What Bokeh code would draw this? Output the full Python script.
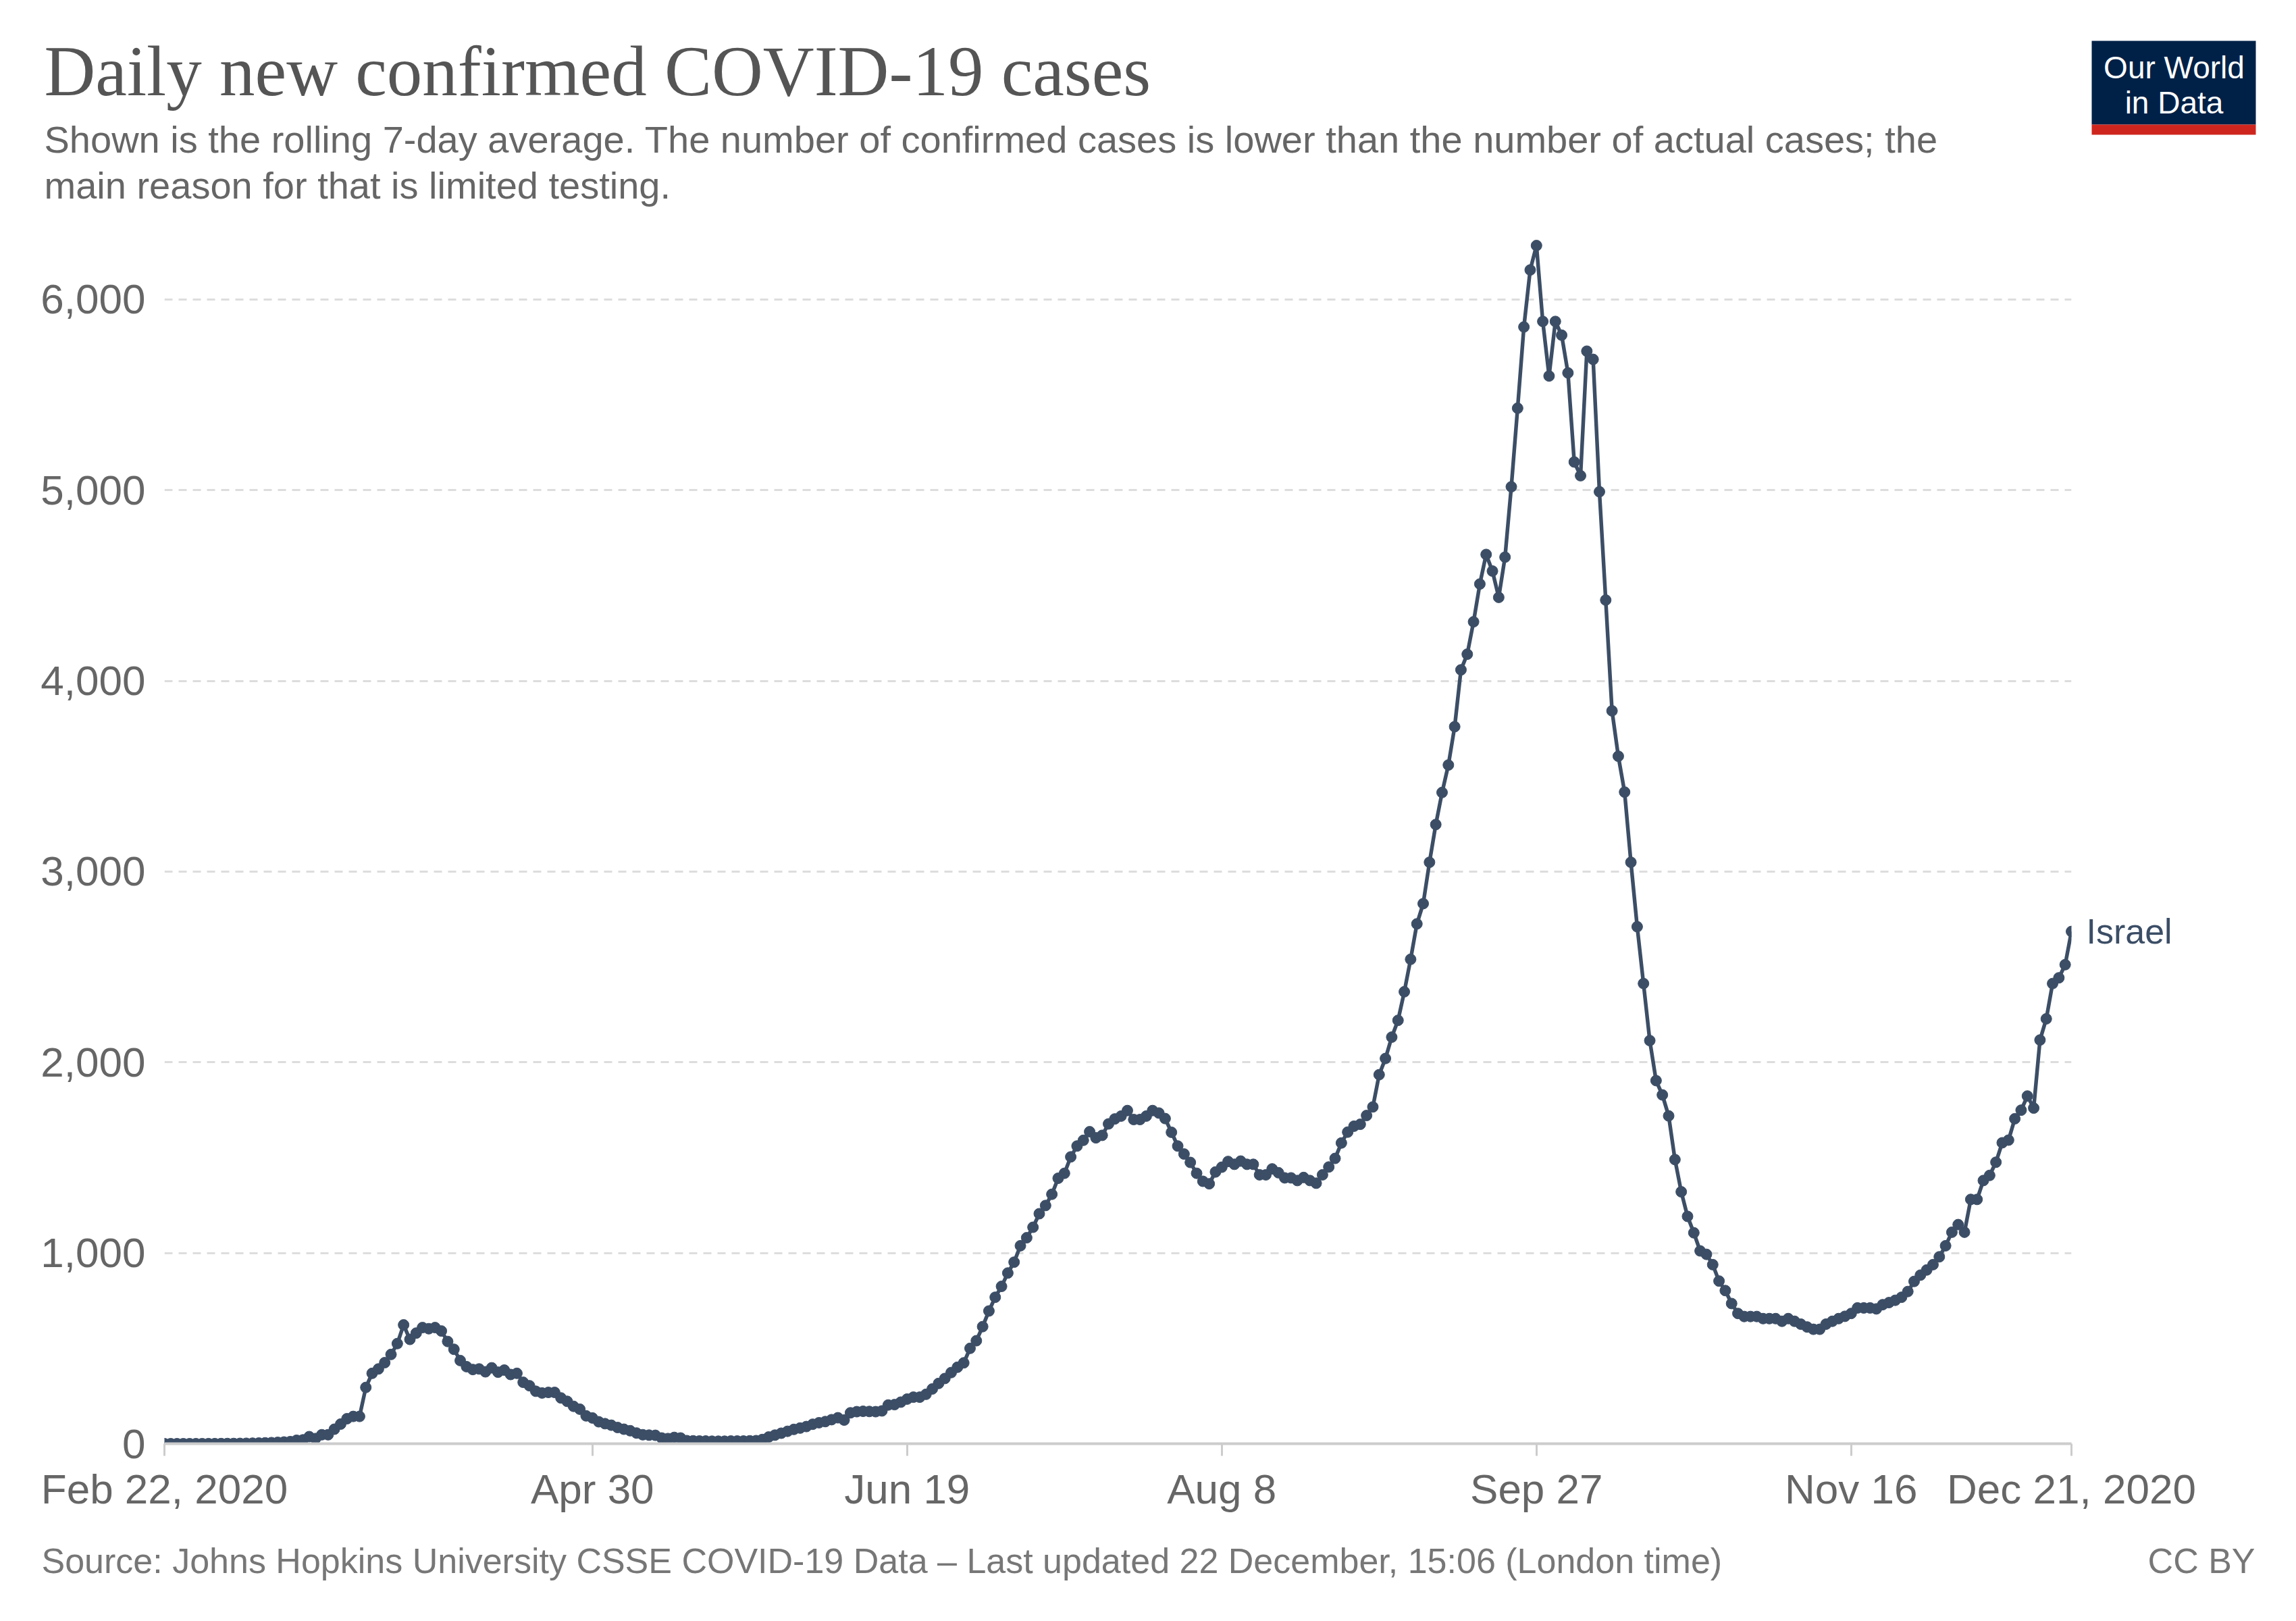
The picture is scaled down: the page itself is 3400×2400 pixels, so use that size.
import pandas as pd
from bokeh.plotting import figure
from bokeh.layouts import column
from bokeh.models import (Range1d, FixedTicker, NumeralTickFormatter, LinearAxis,
                          ColumnDataSource)
from bokeh.core.properties import value
from bokeh.embed import file_html
from bokeh.resources import INLINE

# Rolling 7-day average of daily new confirmed cases, Israel, one value per day
feb = [0, 0, 0, 0, 0, 0.1, 0.1, 0.3]
mar = [0.4, 0.6, 0.9, 1.1, 1.6, 2, 2.7, 3.4, 4.4, 5.6, 7, 8.9, 11,
       18, 20, 37, 27, 47, 47, 76, 103, 131, 143, 143, 295, 369, 392, 425, 468, 525, 623]
apr = [547, 580, 609, 603, 609, 591, 536, 495, 436, 404, 389, 392, 377, 398, 375,
       386, 363, 369, 322, 304, 275, 266, 269, 269, 240, 222, 196, 181, 146, 135]
may = [115, 105, 97, 85, 76, 68, 56, 47, 45, 44, 30, 27, 33, 30, 16, 15, 14, 14,
       13, 13, 13, 14, 14, 14, 15, 16, 22, 35, 45, 55, 65]
jun = [75, 82, 90, 102, 110, 116, 126, 136, 124, 162, 168, 170, 169, 168, 172,
       203, 205, 218, 234, 244, 244, 259, 287, 316, 342, 373, 401, 424, 500, 540]
jul = [614, 696, 768, 825, 895, 952, 1038, 1080, 1135, 1206, 1249, 1308, 1392,
       1418, 1504, 1561, 1591, 1636, 1604, 1617, 1677, 1703, 1718, 1747, 1700,
       1700, 1718, 1747, 1734, 1705, 1633]
aug = [1561, 1519, 1475, 1418, 1376, 1363, 1425, 1450, 1480, 1465, 1482, 1465,
       1465, 1410, 1410, 1441, 1421, 1394, 1394, 1380, 1396, 1380, 1366, 1410,
       1451, 1496, 1577, 1634, 1665, 1675, 1721]
sep = [1766, 1935, 2020, 2132, 2220, 2370, 2540, 2726, 2832, 3049, 3247, 3415,
       3559, 3760, 4058, 4140, 4310, 4508, 4663, 4576, 4438, 4649, 5018, 5430,
       5856, 6155, 6283, 5885, 5599, 5885]
oct_ = [5813, 5615, 5148, 5076, 5729, 5686, 4992, 4424, 3843, 3605, 3417, 3049,
        2711, 2413, 2114, 1904, 1829, 1719, 1490, 1321, 1192, 1106, 1011, 993,
        939, 853, 803, 735, 683, 667, 667]
nov = [667, 656, 656, 656, 642, 656, 642, 627, 612, 600, 600, 627, 642, 656, 668,
       683, 712, 712, 712, 707, 729, 740, 752, 768, 798, 851, 884, 911, 939, 980]
dec = [1038, 1109, 1149, 1109, 1281, 1281, 1380, 1407, 1476, 1578, 1592, 1704,
       1749, 1823, 1760, 2117, 2228, 2413, 2443, 2512, 2686]

first_day = "2020-02-22"
last_day = "2020-12-21"
country = "Israel"

tick_dates = ["2020-02-22", "2020-04-30", "2020-06-19", "2020-08-08",
              "2020-09-27", "2020-11-16", "2020-12-21"]
tick_labels = ["Feb 22, 2020", "Apr 30", "Jun 19", "Aug 8", "Sep 27", "Nov 16",
               "Dec 21, 2020"]
y_ticks = [0, 1000, 2000, 3000, 4000, 5000, 6000]

title = "Daily new confirmed COVID-19 cases"
subtitle = ["Shown is the rolling 7-day average. The number of confirmed cases is "
            "lower than the number of actual cases; the",
            "main reason for that is limited testing."]
source_note = ("Source: Johns Hopkins University CSSE COVID-19 Data – "
               "Last updated 22 December, 15:06 (London time)")
licence = "CC BY"
logo = ["Our World", "in Data"]

values = feb + mar + apr + may + jun + jul + aug + sep + oct_ + nov + dec
dates = pd.date_range(first_day, last_day, freq="D")
assert len(dates) == len(values)


def to_ms(d):
    return int(pd.Timestamp(d).value // 10**6)


W = 3400
HEAD_H, MAIN_H, FOOT_H = 330, 1940, 130
LINE = "#3c4e66"
GREY = "#666666"
SANS = "Liberation Sans"


def blank(height, y_top):
    """A frame-only figure whose y coordinates are page pixels, top down."""
    f = figure(width=W, height=height, x_range=Range1d(0, W),
               y_range=Range1d(y_top + height, y_top), x_axis_type=None,
               y_axis_type=None, min_border=0, toolbar_location=None,
               output_backend="svg")
    f.outline_line_color = None
    f.grid.visible = False
    f.frame_align = False
    return f


# ---- header: title, subtitle and logo
head = blank(HEAD_H, 0)
head.text(x=[65], y=[105], text=[title], text_font=value("Liberation Serif"),
          text_font_size="105px", text_color="#555555", text_baseline="alphabetic")
head.text(x=[65, 65], y=[206, 274], text=subtitle, text_font=value(SANS),
          text_font_size="56px", text_color=GREY, text_baseline="alphabetic")
head.quad(left=[3097], right=[3340], top=[60], bottom=[184],
          fill_color="#002147", line_color=None)
head.quad(left=[3097], right=[3340], top=[184], bottom=[199],
          fill_color="#ce261e", line_color=None)
head.text(x=[3219, 3219], y=[99, 151], text=logo, text_font=value(SANS),
          text_font_size="46px", text_color="white", text_align="center",
          text_baseline="alphabetic")

# ---- main chart
x0_ms, x1_ms = to_ms(first_day), to_ms(last_day)
p = figure(width=W, height=MAIN_H, x_axis_type="datetime",
           x_range=Range1d(x0_ms, x1_ms), y_range=Range1d(0, 6400),
           output_backend="svg", toolbar_location=None,
           min_border_left=243, min_border_right=333,
           min_border_top=0, min_border_bottom=133)
p.outline_line_color = None
p.frame_align = False

src = ColumnDataSource(dict(date=dates, cases=values))
p.line("date", "cases", source=src, line_color=LINE, line_width=5.5)
p.scatter("date", "cases", source=src, size=16, fill_color=LINE, line_color=LINE)

yax = p.yaxis[0]
yax.ticker = FixedTicker(ticks=y_ticks)
yax.formatter = NumeralTickFormatter(format="0,0")
yax.axis_line_color = None
yax.major_tick_line_color = None
yax.minor_tick_line_color = None
yax.major_label_text_font = SANS
yax.major_label_text_font_size = "62px"
yax.major_label_text_color = GREY
yax.major_label_standoff = 22

tick_ms = [to_ms(d) for d in tick_dates]
xax = p.xaxis[0]
xax.ticker = FixedTicker(ticks=tick_ms)
xax.major_label_overrides = {t: lab for t, lab in zip(tick_ms, tick_labels)}
xax.axis_line_color = "#cccccc"
xax.axis_line_width = 4
xax.major_tick_line_color = "#cccccc"
xax.major_tick_line_width = 3
xax.major_tick_out = 18
xax.major_tick_in = 0
xax.minor_tick_line_color = None
xax.major_label_text_font = SANS
xax.major_label_text_font_size = "62px"
xax.major_label_text_color = GREY
xax.major_label_standoff = 14

p.xgrid.grid_line_color = None
p.ygrid.grid_line_color = "#dddddd"
p.ygrid.grid_line_width = 3
p.ygrid.grid_line_dash = "12 9"

# series name next to the last point, placed by a right-hand axis
last = values[-1]
name_axis = LinearAxis(ticker=FixedTicker(ticks=[last]),
                       major_label_overrides={last: country},
                       axis_line_color=None, major_tick_line_color=None,
                       minor_tick_line_color=None, major_label_standoff=16,
                       major_label_text_font=SANS,
                       major_label_text_font_size="52px",
                       major_label_text_color=LINE)
p.add_layout(name_axis, "right")

# ---- footer
foot = blank(FOOT_H, HEAD_H + MAIN_H)
foot.text(x=[61], y=[2310], text=[source_note], text_font=value(SANS),
          text_font_size="52px", text_color="#777777", text_baseline="alphabetic")
foot.text(x=[3339], y=[2310], text=[licence], text_font=value(SANS),
          text_font_size="52px", text_color="#777777", text_align="right",
          text_baseline="alphabetic")

page = column(head, p, foot, spacing=0)
open("out.html", "w").write(file_html(page, INLINE))
